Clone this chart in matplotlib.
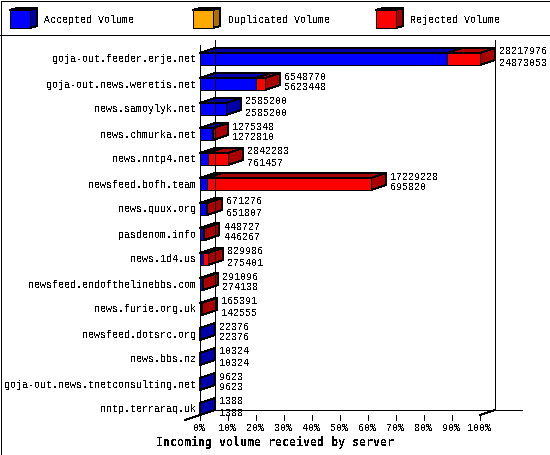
import matplotlib
matplotlib.use("Agg")
import matplotlib.pyplot as plt
from matplotlib.patches import Polygon, Rectangle
from matplotlib.lines import Line2D

servers = ["goja-out.feeder.erje.net", "goja-out.news.weretis.net", "news.samoylyk.net",
           "news.chmurka.net", "news.nntp4.net", "newsfeed.bofh.team", "news.quux.org",
           "pasdenom.info", "news.1d4.us", "newsfeed.endofthelinebbs.com", "news.furie.org.uk",
           "newsfeed.dotsrc.org", "news.bbs.nz", "goja-out.news.tnetconsulting.net", "nntp.terraraq.uk"]
totals = [28217976, 6548770, 2585200, 1275348, 2842283, 17229228, 671276, 448727, 829986,
          291096, 165391, 22376, 10324, 9623, 1388]
accepted = [24873053, 5623448, 2585200, 1272810, 761457, 695820, 651807, 446267, 275401,
            274138, 142555, 22376, 10324, 9623, 1388]
legend_names = ["Accepted Volume", "Duplicated Volume", "Rejected Volume"]
xticks = list(range(0, 101, 10))
xlabel = "Incoming volume received by server"

FRONT = {"a": "#0000ff", "d": "#ffaa00", "r": "#ff0000"}
DARK = {"a": "#0000aa", "d": "#aa7000", "r": "#aa0000"}
W, H = 550, 455
plt.rcParams["text.antialiased"] = False
plt.rcParams["font.family"] = "Liberation Mono"
LW = 0.72
FS = 7.2

fig = plt.figure(figsize=(W / 100, H / 100), dpi=100, facecolor="white")
L, R, T, B = 200.0, 480.0, 40.0, 415.0
ax = fig.add_axes([L / W, 1 - B / H, (R - L) / W, (B - T) / H])
ax.axis("off")
ax.set_xlim(0, 100)
row_px = 25.0
row0 = 59.0
ax.set_ylim((B - row0) / row_px, (T - row0) / row_px)
DX = 15 / 2.8
DY = 5 / row_px
HALF = 6 / row_px


def poly(pts, color, z=3):
    ax.add_patch(Polygon(pts, closed=True, facecolor=color, edgecolor="black", lw=LW,
                         antialiased=False, clip_on=False, zorder=z))


def segment(x0, x1, y, key, side=True):
    t, b = y - HALF, y + HALF
    poly([(x0, t), (x0 + DX, t - DY), (x1 + DX, t - DY), (x1, t)], DARK[key])
    if side:
        poly([(x1, t), (x1 + DX, t - DY), (x1 + DX, b - DY), (x1, b)], DARK[key])
    poly([(x0, t), (x1, t), (x1, b), (x0, b)], FRONT[key])


def hline(x0, y0, x1, y1):
    fig.add_artist(Line2D([x0 / W, x1 / W], [1 - y0 / H, 1 - y1 / H], color="black", lw=LW,
                          antialiased=False, transform=fig.transFigure, zorder=1))


# chart walls
hline(200, 45, 200, 415)
hline(215, 40, 215, 410)
hline(495, 40, 495, 410)
hline(215, 410, 522, 410)
hline(185, 420, 215, 410)
hline(480, 415, 495, 410)

top = max(totals)
for i, (name, tot, acc) in enumerate(zip(servers, totals, accepted)):
    pa, pt = acc / top * 100, tot / top * 100
    segment(0, pa, i, "a", side=tot == acc)
    if tot > acc:
        segment(pa, pt, i, "r")
    ax.text(-1.25, i + 0.02, name, ha="right", va="center", fontsize=FS, clip_on=False, zorder=5)
    ax.annotate(str(tot), (pt + DX, i), xytext=(4.5, 7.5), textcoords="offset pixels",
                ha="left", va="center", fontsize=FS, annotation_clip=False, zorder=5)
    ax.annotate(str(acc), (pt + DX, i), xytext=(4.5, -3.5), textcoords="offset pixels",
                ha="left", va="center", fontsize=FS, annotation_clip=False, zorder=5)

for t in xticks:
    ax.plot([t, t], [(B - row0) / row_px, (B + 5 - row0) / row_px], color="black", lw=LW,
            antialiased=False, clip_on=False, zorder=4)
    ax.text(t - 0.25, (428 - row0) / row_px, f"{t}%", ha="center", va="center", fontsize=FS,
            clip_on=False)

fig.text(274.5 / W, 1 - 442 / H, xlabel, ha="center", va="center", fontsize=8.4,
         fontweight="bold", family="DejaVu Sans Mono")

# frame and legend band
fig.add_artist(Rectangle((0.5 / W, 0.5 / H), (W - 1) / W, (H - 1) / H, fill=False, edgecolor="black",
                         lw=LW, antialiased=False, transform=fig.transFigure))
hline(0, 35, W, 35)


def legend_box(x, key, name):
    x0, x1, y0, y1, dx, dy = x, x + 20, 10, 28, 7, 2
    def p(pts, c):
        fig.add_artist(Polygon([(a / W, 1 - b / H) for a, b in pts], closed=True, facecolor=c,
                               edgecolor="black", lw=LW, antialiased=False,
                               transform=fig.transFigure))
    p([(x0, y0), (x0 + dx, y0 - dy), (x1 + dx, y0 - dy), (x1, y0)], DARK[key])
    p([(x1, y0), (x1 + dx, y0 - dy), (x1 + dx, y1 - dy), (x1, y1)], DARK[key])
    p([(x0, y0), (x1, y0), (x1, y1), (x0, y1)], FRONT[key])
    fig.text((x + 34.5) / W, 1 - 20 / H, name, ha="left", va="center", fontsize=FS)


for x, key, name in zip([10, 193, 376], ["a", "d", "r"], legend_names):
    legend_box(x, key, name)

fig.savefig("out.png", dpi=100)
